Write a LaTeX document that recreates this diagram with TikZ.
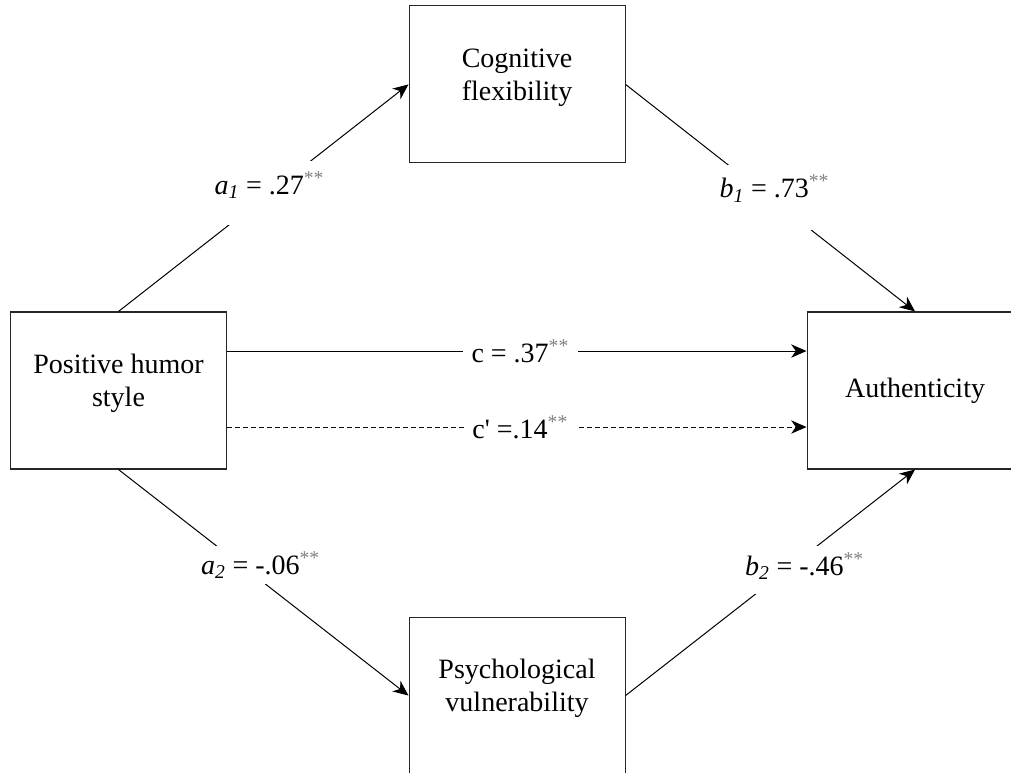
\documentclass[tikz,border=0pt]{standalone}
\usepackage{fontspec}
\setmainfont{Liberation Serif}
\usepackage{xcolor}
\usepackage{tikz}
\usetikzlibrary{arrows.meta}
\usetikzlibrary{positioning}

\newcommand{\sig}{\textsuperscript{\textcolor{gray}{**}}}

\begin{document}
\begin{tikzpicture}[node distance=2cm,
    box/.style={rectangle,draw=black!85,line width=0.8pt,minimum width=162pt,minimum height=117.75pt,align=center,font=\fontsize{21}{25}\selectfont},
    lab/.style={fill=white,inner xsep=4pt,inner ysep=0pt,font=\fontsize{21}{25}\selectfont},
    arr/.style={line width=0.75pt,-{Stealth[length=11.5pt,width=10pt,inset=3.5pt]}}]
   \useasboundingbox (-88.875pt,292.875pt) rectangle (669.375pt,-286.875pt);
   \node[box,text depth=15pt] (P) {Positive humor\\style};
   \node[box,text depth=15pt] (CF) [above right=111pt and 136.1pt of P] {Cognitive\\flexibility};
   \node[box,text depth=15pt] (PV) [below right=110.25pt and 136.1pt of P] {Psychological\\vulnerability};
   \node[box] (A) [right=434.6pt of P] {Authenticity};
    \path[arr]
    (P.north) edge node[lab,pos=.52,text height=25pt,text depth=23pt] {\textit{a}\textsubscript{\textit{1}} = .27\sig} (CF.west)
    (CF.east) edge node[lab,pos=.5,text height=24.4pt,text depth=24.4pt,xshift=3pt] {\textit{b}\textsubscript{\textit{1}} = .73\sig} (A.north)
    (P.south) edge node[lab,pos=.424,text height=21.25pt,text depth=7.25pt,xshift=14.25pt] {\textit{a}\textsubscript{\textit{2}} = -.06\sig} (PV.west)
    (PV.east) edge node[lab,pos=.556,text height=22pt,text depth=14pt,xshift=13.5pt] {\textit{b}\textsubscript{\textit{2}} = -.46\sig} (A.south)
    ([yshift=29.6pt]P.east) edge node[lab,pos=.506,inner xsep=6.4pt] {c = .37\sig} ([yshift=29.6pt]A.west)
    ([yshift=-27.4pt]P.east) edge[dash pattern=on 3.5pt off 2.5pt] node[lab,pos=.506,inner xsep=6pt] {c\textquotesingle{} =.14\sig} ([yshift=-27.4pt]A.west);
\end{tikzpicture}
\end{document}
